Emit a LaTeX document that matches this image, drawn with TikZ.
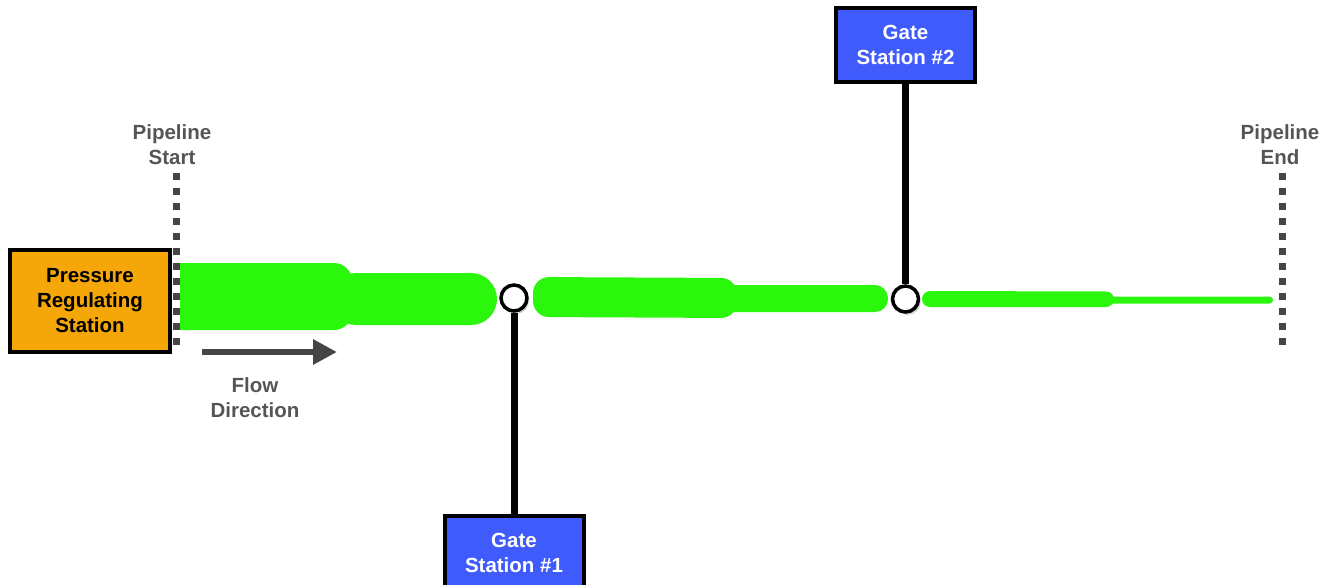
\documentclass[tikz,border=0pt]{standalone}
\usepackage{fontspec}
\setmainfont{Liberation Sans}
\usetikzlibrary{arrows.meta,shadows}
\definecolor{pipegreen}{HTML}{2BF70C}
\definecolor{prsorange}{HTML}{F5A70A}
\definecolor{gateblue}{HTML}{3F5BFC}
\definecolor{dotgray}{HTML}{454545}
\definecolor{labgray}{HTML}{555555}
\tikzset{
  pipe/.style={fill=pipegreen},
  boxbase/.style={draw=black, line width=4pt, align=center, inner sep=0pt,
    font=\fontsize{20.5}{25}\selectfont\bfseries},
  prsbox/.style={boxbase, fill=prsorange, text=black, minimum width=160pt, minimum height=102pt},
  gatebox/.style={boxbase, fill=gateblue, text=white, minimum width=139pt, minimum height=74pt},
  junction/.style={circle, draw=black, fill=white, line width=3.5pt, minimum size=26pt, inner sep=0pt,
    drop shadow={shadow xshift=2pt, shadow yshift=-3pt, opacity=0.35}},
  tie/.style={draw=black, line width=7pt},
  endline/.style={draw=dotgray, line width=7pt, dash pattern=on 7pt off 8pt},
  lab/.style={align=center, text=labgray, inner sep=0pt,
    font=\fontsize{20.5}{25}\selectfont\bfseries},
  flowarrow/.style={draw=dotgray, line width=6pt, -{Triangle[length=24pt,width=24pt]}}
}
\begin{document}
\begin{tikzpicture}[x=1pt,y=-1pt]
\useasboundingbox (0,0) rectangle (1335,584);
% pipeline start/end markers
\coordinate (psT) at (176,173);
\coordinate (psB) at (176,352);
\coordinate (peT) at (1282,173);
\coordinate (peB) at (1282,352);
\draw[endline] (psT) -- (psB);
\draw[endline] (peT) -- (peB);
\node[lab] (pslab) at (172,145) {Pipeline\\Start};
\node[lab] (pelab) at (1280,145) {Pipeline\\End};
% pipe segment 1
\fill[pipe] (180,263) [rounded corners=18] -- (352,263) -- (352,330) [sharp corners] -- (180,330) -- cycle;
\fill[pipe, rounded corners=26] (330,273) -- (497,273) -- (497,325) -- (330,325) -- cycle;
% pipe segment 2
\fill[pipe, rounded corners=16] (533,277) -- (737,278) -- (737,318) -- (533,317) -- cycle;
\fill[pipe, rounded corners=13] (715,285) -- (888,285) -- (888,312) -- (715,312) -- cycle;
% pipe segment 3
\fill[pipe, rounded corners=8] (922,291) -- (1114,291.5) -- (1114,307) -- (922,307) -- cycle;
\fill[pipe, rounded corners=3.5] (1100,296.5) -- (1273,296.5) -- (1273,303.5) -- (1100,303.5) -- cycle;
% stations
\node[prsbox] (prs) at (90,301) {Pressure\\Regulating\\Station};
\node[gatebox] (gs2) at (905.5,45) {Gate\\Station \#2};
\node[gatebox] (gs1) at (514,553) {Gate\\Station \#1};
% junctions
\node[junction] (j1) at (514,298) {};
\node[junction] (j2) at (905.5,299) {};
\draw[tie] (gs2.south) -- (j2.north);
\draw[tie] (j1.south) -- (gs1.north);
% flow direction
\coordinate (fA) at (202,352);
\coordinate (fB) at (337,352);
\draw[flowarrow] (fA) -- (fB);
\node[lab] (flowlab) at (255,397.5) {Flow\\Direction};
\end{tikzpicture}
\end{document}
